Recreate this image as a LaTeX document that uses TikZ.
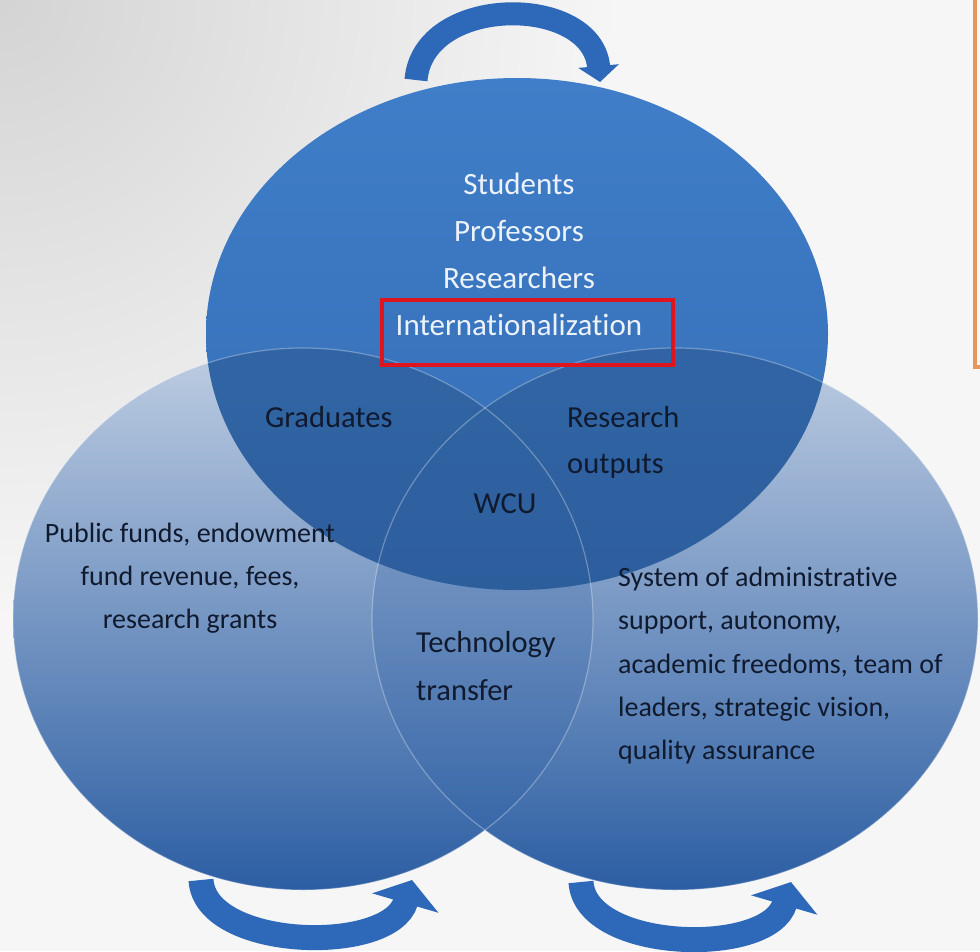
\documentclass[tikz,border=0pt]{standalone}
\usepackage{fontspec}
\setmainfont[Ligatures=NoCommon]{Carlito}
\usetikzlibrary{shapes.geometric,arrows.meta}

\definecolor{ringblue}{RGB}{64,126,201}
\definecolor{ringmid}{RGB}{52,108,180}
\definecolor{ringdark}{RGB}{44,94,163}
\definecolor{ringpale}{RGB}{190,205,226}
\definecolor{arrowblue}{RGB}{46,104,184}
\definecolor{inkdark}{RGB}{16,26,46}
\definecolor{inklight}{RGB}{236,242,250}
\definecolor{bgpaper}{RGB}{246,246,246}
\definecolor{framered}{RGB}{222,20,30}
\definecolor{frameorange}{RGB}{232,150,90}

\begin{document}
\begin{tikzpicture}[x=1pt, y=-1pt, >=latex,
    ring/.style={ellipse, inner sep=0pt},
    turnarrow/.style={line width=25pt, arrowblue, -{Triangle[width=68pt, length=24pt]}},
    darktext/.style={font=\fontsize{30.5}{46}\selectfont, text=inkdark, inner sep=0pt},
    lighttext/.style={font=\fontsize{31}{47}\selectfont, text=inklight, inner sep=0pt}]

    \useasboundingbox (0,0) rectangle (980,951);
    % paper with the grey corner
    \begin{scope}
        \clip (0,0) rectangle (980,951);
        \fill[bgpaper] (0,0) rectangle (980,951);
        \shade[inner color=black!17, outer color=bgpaper] (-620,-620) rectangle (620,620);
    \end{scope}
    \draw[frameorange, line width=4pt] (990,367) -| (975,-10);

    % the three rings
    \node (resources) [ring, minimum width=580pt, minimum height=542pt, top color=ringpale, bottom color=ringdark] at (303,619) {};
    \node (governance) [ring, minimum width=606pt, minimum height=542pt, top color=ringpale, bottom color=ringdark] at (675,619) {};
    \begin{scope}
        \clip (resources.center) ellipse [x radius=290pt, y radius=271pt];
        \fill[ringdark, opacity=0.22] (governance.center) ellipse [x radius=303pt, y radius=271pt];
    \end{scope}
    \node (talent) [ring, minimum width=622pt, minimum height=512pt, top color=ringblue, bottom color=ringmid] at (517,334) {};
    \begin{scope}
        \clip (talent.center) ellipse [x radius=311pt, y radius=256pt];
        \fill[black, opacity=0.13] (resources.center) ellipse [x radius=290pt, y radius=271pt]
            (governance.center) ellipse [x radius=303pt, y radius=271pt];
    \end{scope}
    \draw[white, opacity=0.3, line width=1.2pt] (resources.center) ellipse [x radius=290pt, y radius=271pt];
    \draw[white, opacity=0.3, line width=1.2pt] (governance.center) ellipse [x radius=303pt, y radius=271pt];

    % turning arrows
    \coordinate (toptail) at (416,80);
    \coordinate (tophead) at (600,82);
    \coordinate (lefttail) at (201,880);
    \coordinate (lefthead) at (412,880);
    \coordinate (righttail) at (581,882);
    \coordinate (righthead) at (791,882);
    \draw[turnarrow, line width=23pt, -{Triangle[width=40pt, length=16pt]}] (toptail) .. controls (423,-6) and (592,-6) .. (tophead);
    \draw[turnarrow] (lefttail) .. controls (205,950) and (390,955) .. (lefthead);
    \draw[turnarrow] (righttail) .. controls (585,952) and (769,957) .. (righthead);

    % texts
    \node (members) [lighttext, anchor=north, align=center] at (519,173) {Students\\Professors\\Researchers\\Internationalization};
    \draw[framered, line width=4pt] (382,300) rectangle (673,365);
    \node (graduates) [darktext, anchor=north west] at (265,406) {Graduates};
    \node (outputs) [darktext, anchor=north west, align=left] at (567,406) {Research\\outputs};
    \node (wcu) [darktext, anchor=north] at (505,493) {WCU};
    \node (funds) [darktext, anchor=north, align=center, font=\fontsize{28}{43}\selectfont] at (190,523) {Public funds, endowment\\fund revenue, fees,\\research grants};
    \node (transfer) [darktext, anchor=north west, align=left, font=\fontsize{30.5}{48}\selectfont] at (416,631) {Technology\\transfer};
    \node (support) [darktext, anchor=north west, align=left, font=\fontsize{28}{43.2}\selectfont] at (618,567) {System of administrative\\support, autonomy,\\academic freedoms, team of\\leaders, strategic vision,\\quality assurance};
\end{tikzpicture}
\end{document}
